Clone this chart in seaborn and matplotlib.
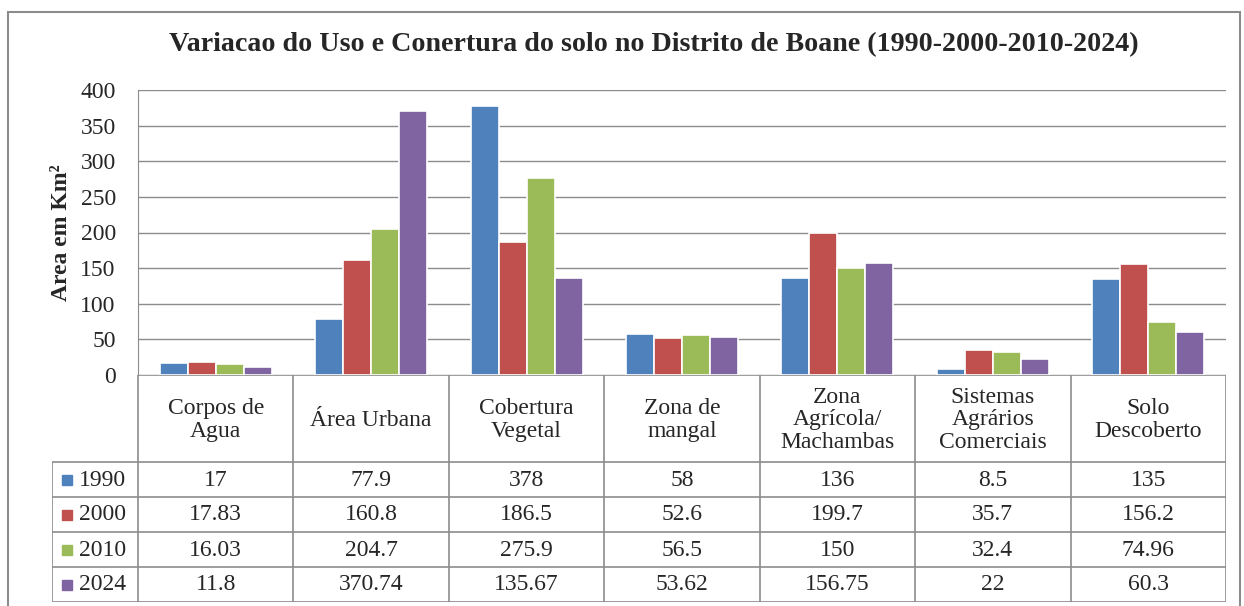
import numpy as np
import pandas as pd
import matplotlib
matplotlib.use("Agg")
import matplotlib.pyplot as plt
import seaborn as sns
from matplotlib.patches import Rectangle

categories = ["Corpos de\nAgua", "Área Urbana", "Cobertura\nVegetal", "Zona de\nmangal",
              "Zona\nAgrícola/\nMachambas", "Sistemas\nAgrários\nComerciais", "Solo\nDescoberto"]
years = ["1990", "2000", "2010", "2024"]
v1990 = [17, 77.9, 378, 58, 136, 8.5, 135]
v2000 = [17.83, 160.8, 186.5, 52.6, 199.7, 35.7, 156.2]
v2010 = [16.03, 204.7, 275.9, 56.5, 150, 32.4, 74.96]
v2024 = [11.8, 370.74, 135.67, 53.62, 156.75, 22, 60.3]
labels_1990 = ["17", "77.9", "378", "58", "136", "8.5", "135"]
labels_2000 = ["17.83", "160.8", "186.5", "52.6", "199.7", "35.7", "156.2"]
labels_2010 = ["16.03", "204.7", "275.9", "56.5", "150", "32.4", "74.96"]
labels_2024 = ["11.8", "370.74", "135.67", "53.62", "156.75", "22", "60.3"]
colors = ["#4F81BD", "#C0504D", "#9BBB59", "#8064A2"]

series = [v1990, v2000, v2010, v2024]
table_text = [labels_1990, labels_2000, labels_2010, labels_2024]
df = pd.DataFrame({
    "cat": [c for _ in years for c in categories],
    "year": [y for y in years for _ in categories],
    "val": [v for s in series for v in s],
})

sns.set_style("white")
plt.rcParams["font.family"] = ["Liberation Serif", "DejaVu Serif"]
W, H = 1244, 606
fig = plt.figure(figsize=(W / 100, H / 100), dpi=100)

# outer frame
fig.patches.append(Rectangle((8 / W, -0.05), 1232 / W, 1.05 - 12 / H, transform=fig.transFigure,
                             fill=False, edgecolor="#8c8c8c", linewidth=1.5))

ax = fig.add_axes([138 / W, 1 - 375 / H, (1226 - 138) / W, (375 - 90) / H])
sns.barplot(data=df, x="cat", y="val", hue="year", palette=colors, width=0.72,
            edgecolor="white", linewidth=1.2, saturation=1, ax=ax, legend=False)
ax.set_ylim(0, 400)
ax.set_xlim(-0.5, 6.5)
ax.set_yticks(range(0, 401, 50))
ax.yaxis.grid(True, color="#8c8c8c", linewidth=1)
ax.set_axisbelow(True)
ax.set_xticks([])
ax.set_xlabel("")
ax.set_ylabel("Area em Km²", fontsize=17, fontweight="bold", labelpad=6)
ax.tick_params(axis="y", length=0, pad=16, labelsize=17)
for s in ["top", "right", "bottom"]:
    ax.spines[s].set_visible(False)
ax.spines["left"].set_color("#8c8c8c")

fig.text(654 / W, 1 - 45 / H, "Variacao do Uso e Conertura do solo no Distrito de Boane (1990-2000-2010-2024)",
         ha="center", va="center", fontsize=20.2, fontweight="bold")

# data table below the bars
tx0, tx1 = 52, 1226
tax = fig.add_axes([tx0 / W, 1 - 602 / H, (tx1 - tx0) / W, (602 - 375) / H])
colw = (1226 - 138) / 7
left = -0.5 - (138 - 52) / colw
tax.set_xlim(left, 6.5)
tax.set_ylim(602, 375)
tax.axis("off")
lc = "#8c8c8c"
tax.plot([-0.5, 6.5], [375, 375], color=lc, lw=1.2)
for yy in [462, 497, 532, 567, 602]:
    tax.plot([left, 6.5], [yy, yy], color=lc, lw=1.2)
for i in range(8):
    tax.plot([i - 0.5, i - 0.5], [375, 602], color=lc, lw=1.2)
tax.plot([left, left], [462, 602], color=lc, lw=1.2)
for i, c in enumerate(categories):
    tax.text(i, 420, c, ha="center", va="center", fontsize=17, linespacing=1.08)
rows_y = [480, 515, 550, 585]
for r, (yr, col, labs) in enumerate(zip(years, colors, table_text)):
    tax.add_patch(Rectangle((left + 10 / colw, rows_y[r] - 5), 10 / colw, 10, color=col))
    tax.text(left + 27 / colw, rows_y[r], yr, ha="left", va="center", fontsize=17)
    for i, t in enumerate(labs):
        tax.text(i, rows_y[r], t, ha="center", va="center", fontsize=17)

fig.savefig("out.png", dpi=100)
